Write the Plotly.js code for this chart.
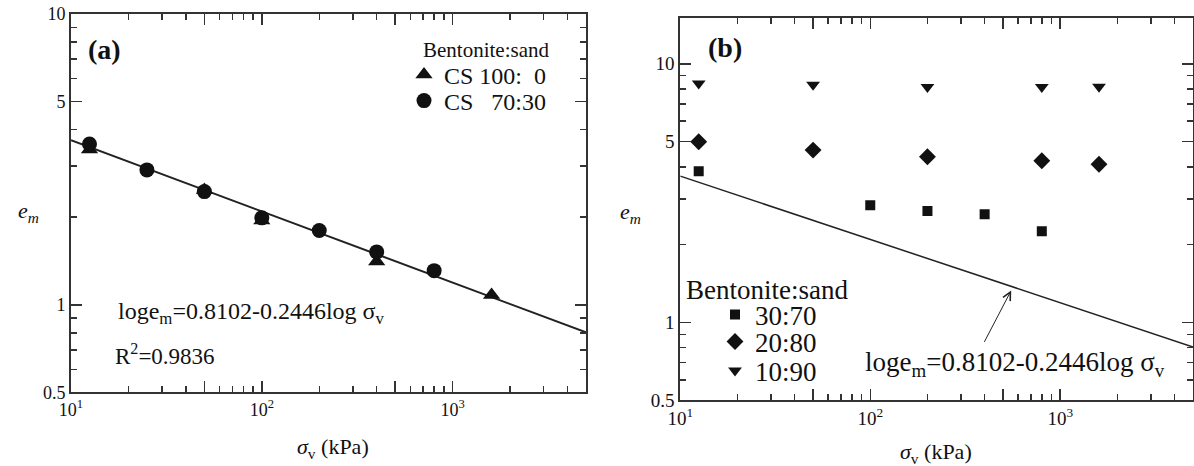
<!DOCTYPE html>
<html><head><meta charset="utf-8">
<script src="https://cdn.plot.ly/plotly-3.0.1.min.js"></script>
<style>html,body{margin:0;padding:0;background:#fff;}#chart{width:1194px;height:466px;}</style>
</head><body><div id="chart"></div>
<script>
// ---- Panel (a) data ----
const a_tri_sigma = [12.5, 50, 100, 400, 1600];
const a_tri_em    = [3.42, 2.48, 1.95, 1.41, 1.08];
const a_cir_sigma = [12.5, 25, 50, 100, 200, 400, 800];
const a_cir_em    = [3.57, 2.91, 2.45, 1.99, 1.80, 1.52, 1.31];
// fitted line loge_m = 0.8102 - 0.2446 log sigma_v (end points)
const fit_sigma = [10, 5000];
const fit_em    = [3.68, 0.804];
// ---- Panel (b) data ----
const b_sq_sigma  = [12.5, 100, 200, 400, 800];
const b_sq_em     = [3.84, 2.84, 2.70, 2.62, 2.25];
const b_dia_sigma = [12.5, 50, 200, 800, 1600];
const b_dia_em    = [5.0, 4.64, 4.37, 4.22, 4.09];
const b_tri_sigma = [12.5, 50, 200, 800, 1600];
const b_tri_em    = [8.40, 8.30, 8.13, 8.13, 8.16];
// ---- labels ----
const legendTitle = 'Bentonite:sand';
const namesA = ['CS 100:\u00a0\u00a00', 'CS \u00a0\u00a070:30'];
const namesB = ['30:70', '20:80', '10:90'];
const xMajor = [10, 50, 100, 500, 1000, 5000];
const xMajorText = ['10<sup>1</sup>', '', '10<sup>2</sup>', '', '10<sup>3</sup>', ''];
const xMinor = [20, 30, 40, 60, 70, 80, 90, 200, 300, 400, 600, 700, 800, 900, 2000, 3000, 4000];
const yMajor = [0.5, 1, 5, 10];
const yMajorText = ['0.5', '1', '5', '10'];
const yMinor = [0.6, 0.7, 0.8, 0.9, 2, 3, 4, 6, 7, 8, 9];
const eqText = 'loge<sub>m</sub>=0.8102-0.2446log σ<sub>v</sub>';
const r2Text = 'R<sup>2</sup>=0.9836';
const arrowTip = [552, 1.33];
const arrowTail = [395, 0.83];

const FONT = 'Liberation Serif';
const INK = '#111';
const AX = '#333';

function xAxis(domain, anchor, size) {
  return {
    type: 'log', domain: domain, anchor: anchor, range: [1, Math.log10(5000)],
    tickmode: 'array', tickvals: xMajor, ticktext: xMajorText,
    ticks: 'inside', ticklen: 11, tickwidth: 1.5, tickcolor: AX,
    showline: true, linecolor: AX, linewidth: 2, mirror: 'ticks',
    showgrid: false, zeroline: false,
    tickfont: {family: FONT, size: size, color: INK},
    minor: {tickmode: 'array', tickvals: xMinor, ticks: 'inside', ticklen: 6, tickwidth: 1.5, tickcolor: AX, showgrid: false}
  };
}
function yAxis(domain, anchor, range, size) {
  return {
    type: 'log', domain: domain, anchor: anchor, range: range,
    tickmode: 'array', tickvals: yMajor, ticktext: yMajorText,
    ticks: 'inside', ticklen: 11, tickwidth: 1.5, tickcolor: AX,
    showline: true, linecolor: AX, linewidth: 2, mirror: 'ticks',
    showgrid: false, zeroline: false,
    tickfont: {family: FONT, size: size, color: INK},
    minor: {tickmode: 'array', tickvals: yMinor, ticks: 'inside', ticklen: 6, tickwidth: 1.5, tickcolor: AX, showgrid: false}
  };
}

const traces = [
  {x: fit_sigma, y: fit_em, xaxis: 'x', yaxis: 'y', mode: 'lines', line: {color: '#222', width: 2}, showlegend: false, hoverinfo: 'skip'},
  {x: a_tri_sigma, y: a_tri_em, xaxis: 'x', yaxis: 'y', mode: 'markers', name: namesA[0], legend: 'legend',
   marker: {symbol: 'triangle-up', size: 15, color: INK}},
  {x: a_cir_sigma, y: a_cir_em, xaxis: 'x', yaxis: 'y', mode: 'markers', name: namesA[1], legend: 'legend2',
   marker: {symbol: 'circle', size: 15, color: INK}},
  {x: fit_sigma, y: fit_em, xaxis: 'x2', yaxis: 'y2', mode: 'lines', line: {color: '#222', width: 1.5}, showlegend: false, hoverinfo: 'skip'},
  {x: b_sq_sigma, y: b_sq_em, xaxis: 'x2', yaxis: 'y2', mode: 'markers', name: namesB[0], legend: 'legend3',
   marker: {symbol: 'square', size: 10, color: INK}},
  {x: b_dia_sigma, y: b_dia_em, xaxis: 'x2', yaxis: 'y2', mode: 'markers', name: namesB[1], legend: 'legend4',
   marker: {symbol: 'diamond', size: 13, color: INK}},
  {x: b_tri_sigma, y: b_tri_em, xaxis: 'x2', yaxis: 'y2', mode: 'markers', name: namesB[2], legend: 'legend5',
   marker: {symbol: 'triangle-down', size: 12, color: INK}}
];

const W = 1194, H = 466;
const px = v => v / W, py = v => 1 - v / H;

function leg(xSym, yc, size) {
  return {x: px(xSym - 20), xanchor: 'left', y: py(yc), yanchor: 'middle',
          bgcolor: 'rgba(0,0,0,0)', borderwidth: 0,
          font: {family: FONT, size: size, color: INK}};
}
function ann(text, x, y, size, extra) {
  return Object.assign({text: text, xref: 'paper', yref: 'paper', x: px(x), y: py(y),
    xanchor: 'center', yanchor: 'middle', showarrow: false,
    font: {family: FONT, size: size, color: INK}}, extra || {});
}

const layout = {
  width: W, height: H,
  margin: {l: 0, r: 0, t: 0, b: 0},
  paper_bgcolor: '#fff', plot_bgcolor: '#fff',
  font: {family: FONT, color: INK},
  xaxis: xAxis([px(71), px(586)], 'y', 18),
  yaxis: yAxis([py(392.3), py(14)], 'x', [Math.log10(0.5), 1], 18),
  xaxis2: xAxis([px(680.3), px(1193)], 'y2', 19),
  yaxis2: yAxis([py(400.3), py(18.3)], 'x2', [Math.log10(0.5), Math.log10(15)], 19),
  legend: leg(424, 75, 24),
  legend2: leg(424, 101, 24),
  legend3: leg(735, 315, 27),
  legend4: leg(735, 342, 27),
  legend5: leg(735, 371, 27),
  annotations: [
    ann('<b>(a)</b>', 104, 49, 28),
    ann('<b>(b)</b>', 725, 47, 28),
    ann(legendTitle, 421, 50, 21, {xanchor: 'left'}),
    ann(legendTitle, 684, 290, 27, {xanchor: 'left'}),
    ann(eqText, 251, 313, 24),
    ann(r2Text, 165, 354, 23),
    ann(eqText, 1015, 364, 27),
    ann('<i>e<sub>m</sub></i>', 28, 212, 22),
    ann('<i>e<sub>m</sub></i>', 630, 213, 22),
    ann('<i>σ</i><sub>v</sub> (kPa)', 333, 448, 22),
    ann('<i>σ</i><sub>v</sub> (kPa)', 936, 453, 22),
    {text: '', xref: 'x2', yref: 'y2', axref: 'x2', ayref: 'y2',
     x: Math.log10(arrowTip[0]), y: Math.log10(arrowTip[1]),
     ax: Math.log10(arrowTail[0]), ay: Math.log10(arrowTail[1]),
     showarrow: true, arrowhead: 5, arrowsize: 1.6, arrowwidth: 1, arrowcolor: '#222'}
  ]
};

Plotly.newPlot('chart', traces, layout, {displayModeBar: false, staticPlot: true});
</script>
</body></html>
